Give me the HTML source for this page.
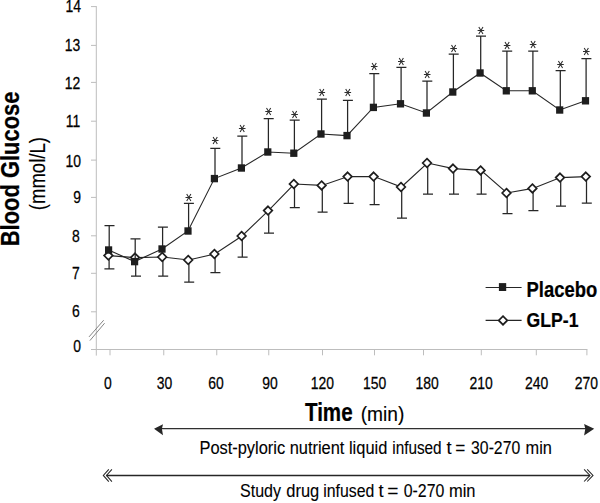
<!DOCTYPE html>
<html><head><meta charset="utf-8"><title>Blood glucose chart</title>
<style>html,body{margin:0;padding:0;background:#fff}svg{display:block}text{font-family:"Liberation Sans",sans-serif;fill:#000}</style></head><body>
<svg width="600" height="503" viewBox="0 0 600 503">
<rect width="600" height="503" fill="#fff"/>
<g stroke="#bdbdbd" stroke-width="1" fill="none">
<line x1="96.3" y1="6.1" x2="96.3" y2="355.6"/>
<line x1="91" y1="349.5" x2="587.4" y2="349.5"/>
<line x1="91" y1="6.60" x2="96.3" y2="6.60"/>
<line x1="91" y1="45.40" x2="96.3" y2="45.40"/>
<line x1="91" y1="82.40" x2="96.3" y2="82.40"/>
<line x1="91" y1="121.20" x2="96.3" y2="121.20"/>
<line x1="91" y1="160.10" x2="96.3" y2="160.10"/>
<line x1="91" y1="197.40" x2="96.3" y2="197.40"/>
<line x1="91" y1="235.80" x2="96.3" y2="235.80"/>
<line x1="91" y1="273.30" x2="96.3" y2="273.30"/>
<line x1="91" y1="311.80" x2="96.3" y2="311.80"/>
<line x1="110.00" y1="349.5" x2="110.00" y2="355.3"/>
<line x1="163.75" y1="349.5" x2="163.75" y2="355.3"/>
<line x1="216.75" y1="349.5" x2="216.75" y2="355.3"/>
<line x1="268.75" y1="349.5" x2="268.75" y2="355.3"/>
<line x1="322.50" y1="349.5" x2="322.50" y2="355.3"/>
<line x1="374.50" y1="349.5" x2="374.50" y2="355.3"/>
<line x1="423.50" y1="349.5" x2="423.50" y2="355.3"/>
<line x1="481.30" y1="349.5" x2="481.30" y2="355.3"/>
<line x1="536.30" y1="349.5" x2="536.30" y2="355.3"/>
<line x1="586.90" y1="349.5" x2="586.90" y2="355.3"/>
</g>
<g stroke="#777" stroke-width="0.9"><line x1="89" y1="336.9" x2="103.7" y2="320.2"/><line x1="89.9" y1="340.6" x2="104.6" y2="323.2"/></g>
<text x="0" y="0" font-size="16.3" text-anchor="end" stroke="#000" stroke-width="0.25" transform="translate(80.9 12.4) scale(0.855 1)">14</text>
<text x="0" y="0" font-size="16.3" text-anchor="end" stroke="#000" stroke-width="0.25" transform="translate(80.2 51.1) scale(0.855 1)">13</text>
<text x="0" y="0" font-size="16.3" text-anchor="end" stroke="#000" stroke-width="0.25" transform="translate(80.2 88.5) scale(0.855 1)">12</text>
<text x="0" y="0" font-size="16.3" text-anchor="end" stroke="#000" stroke-width="0.25" transform="translate(80.2 127.0) scale(0.855 1)">11</text>
<text x="0" y="0" font-size="16.3" text-anchor="end" stroke="#000" stroke-width="0.25" transform="translate(80.9 167.0) scale(0.855 1)">10</text>
<text x="0" y="0" font-size="16.3" text-anchor="end" stroke="#000" stroke-width="0.25" transform="translate(80.9 203.1) scale(0.855 1)">9</text>
<text x="0" y="0" font-size="16.3" text-anchor="end" stroke="#000" stroke-width="0.25" transform="translate(79.7 242.0) scale(0.855 1)">8</text>
<text x="0" y="0" font-size="16.3" text-anchor="end" stroke="#000" stroke-width="0.25" transform="translate(79.7 279.0) scale(0.855 1)">7</text>
<text x="0" y="0" font-size="16.3" text-anchor="end" stroke="#000" stroke-width="0.25" transform="translate(79.7 317.1) scale(0.855 1)">6</text>
<text x="0" y="0" font-size="16.3" text-anchor="end" stroke="#000" stroke-width="0.25" transform="translate(80.9 352.3) scale(0.855 1)">0</text>
<text x="0" y="0" font-size="16.3" text-anchor="middle" stroke="#000" stroke-width="0.25" transform="translate(107.8 389.2) scale(0.855 1)">0</text>
<text x="0" y="0" font-size="16.3" text-anchor="middle" stroke="#000" stroke-width="0.25" transform="translate(164.4 389.2) scale(0.855 1)">30</text>
<text x="0" y="0" font-size="16.3" text-anchor="middle" stroke="#000" stroke-width="0.25" transform="translate(216.1 389.2) scale(0.855 1)">60</text>
<text x="0" y="0" font-size="16.3" text-anchor="middle" stroke="#000" stroke-width="0.25" transform="translate(270.1 389.2) scale(0.855 1)">90</text>
<text x="0" y="0" font-size="16.3" text-anchor="middle" stroke="#000" stroke-width="0.25" transform="translate(322.3 389.2) scale(0.855 1)">120</text>
<text x="0" y="0" font-size="16.3" text-anchor="middle" stroke="#000" stroke-width="0.25" transform="translate(374.7 389.2) scale(0.855 1)">150</text>
<text x="0" y="0" font-size="16.3" text-anchor="middle" stroke="#000" stroke-width="0.25" transform="translate(427 389.2) scale(0.855 1)">180</text>
<text x="0" y="0" font-size="16.3" text-anchor="middle" stroke="#000" stroke-width="0.25" transform="translate(481 389.2) scale(0.855 1)">210</text>
<text x="0" y="0" font-size="16.3" text-anchor="middle" stroke="#000" stroke-width="0.25" transform="translate(536.5 389.2) scale(0.855 1)">240</text>
<text x="0" y="0" font-size="16.3" text-anchor="middle" stroke="#000" stroke-width="0.25" transform="translate(586.3 389.2) scale(0.855 1)">270</text>
<polyline points="108.8,255.6 135.4,257.6 162.6,257.0 188.6,260.0 214.8,254.0 242.0,236.0 268.4,210.6 294.2,184.0 322.0,185.4 348.0,176.6 374.0,176.6 401.4,187.0 427.4,163.0 453.4,168.6 481.0,170.4 506.9,193.0 532.8,188.4 560.4,177.6 586.2,176.6" fill="none" stroke="#262626" stroke-width="1.1"/>
<g stroke="#262626" stroke-width="1.25" fill="none">
<path d="M109.1 255.6V268.8M104.4 268.8H114.4"/>
<path d="M135.7 257.6V276.2M131.0 276.2H141.0"/>
<path d="M162.9 257.0V276.2M158.2 276.2H168.2"/>
<path d="M188.9 260.0V282.0M184.2 282.0H194.2"/>
<path d="M215.1 254.0V272.6M210.4 272.6H220.4"/>
<path d="M242.3 236.0V257.0M237.6 257.0H247.6"/>
<path d="M268.7 210.6V233.0M264.0 233.0H274.0"/>
<path d="M294.5 184.0V207.6M289.8 207.6H299.8"/>
<path d="M322.3 185.4V212.0M317.6 212.0H327.6"/>
<path d="M348.3 176.6V203.4M343.6 203.4H353.6"/>
<path d="M374.3 176.6V204.6M369.6 204.6H379.6"/>
<path d="M401.7 187.0V218.0M397.0 218.0H407.0"/>
<path d="M427.7 163.0V194.2M423.0 194.2H433.0"/>
<path d="M453.7 168.6V194.2M449.0 194.2H459.0"/>
<path d="M481.3 170.4V194.2M476.6 194.2H486.6"/>
<path d="M507.2 193.0V213.6M502.5 213.6H512.5"/>
<path d="M533.1 188.4V210.6M528.4 210.6H538.4"/>
<path d="M560.7 177.6V206.0M556.0 206.0H566.0"/>
<path d="M586.5 176.6V203.2M581.8 203.2H591.8"/>
</g>
<path d="M108.4 251.3L112.7 255.6L108.4 259.9L104.1 255.6Z" fill="#fff" stroke="#1e1e1e" stroke-width="1.7" stroke-linejoin="miter"/>
<path d="M135.0 253.3L139.3 257.6L135.0 261.9L130.7 257.6Z" fill="#fff" stroke="#1e1e1e" stroke-width="1.7" stroke-linejoin="miter"/>
<path d="M162.2 252.7L166.5 257.0L162.2 261.3L157.9 257.0Z" fill="#fff" stroke="#1e1e1e" stroke-width="1.7" stroke-linejoin="miter"/>
<path d="M188.2 255.7L192.5 260.0L188.2 264.3L183.9 260.0Z" fill="#fff" stroke="#1e1e1e" stroke-width="1.7" stroke-linejoin="miter"/>
<path d="M214.4 249.7L218.7 254.0L214.4 258.3L210.1 254.0Z" fill="#fff" stroke="#1e1e1e" stroke-width="1.7" stroke-linejoin="miter"/>
<path d="M241.6 231.7L245.9 236.0L241.6 240.3L237.3 236.0Z" fill="#fff" stroke="#1e1e1e" stroke-width="1.7" stroke-linejoin="miter"/>
<path d="M268.0 206.3L272.3 210.6L268.0 214.9L263.7 210.6Z" fill="#fff" stroke="#1e1e1e" stroke-width="1.7" stroke-linejoin="miter"/>
<path d="M293.8 179.7L298.1 184.0L293.8 188.3L289.5 184.0Z" fill="#fff" stroke="#1e1e1e" stroke-width="1.7" stroke-linejoin="miter"/>
<path d="M321.6 181.1L325.9 185.4L321.6 189.7L317.3 185.4Z" fill="#fff" stroke="#1e1e1e" stroke-width="1.7" stroke-linejoin="miter"/>
<path d="M347.6 172.3L351.9 176.6L347.6 180.9L343.3 176.6Z" fill="#fff" stroke="#1e1e1e" stroke-width="1.7" stroke-linejoin="miter"/>
<path d="M373.6 172.3L377.9 176.6L373.6 180.9L369.3 176.6Z" fill="#fff" stroke="#1e1e1e" stroke-width="1.7" stroke-linejoin="miter"/>
<path d="M401.0 182.7L405.3 187.0L401.0 191.3L396.7 187.0Z" fill="#fff" stroke="#1e1e1e" stroke-width="1.7" stroke-linejoin="miter"/>
<path d="M427.0 158.7L431.3 163.0L427.0 167.3L422.7 163.0Z" fill="#fff" stroke="#1e1e1e" stroke-width="1.7" stroke-linejoin="miter"/>
<path d="M453.0 164.3L457.3 168.6L453.0 172.9L448.7 168.6Z" fill="#fff" stroke="#1e1e1e" stroke-width="1.7" stroke-linejoin="miter"/>
<path d="M480.6 166.1L484.9 170.4L480.6 174.7L476.3 170.4Z" fill="#fff" stroke="#1e1e1e" stroke-width="1.7" stroke-linejoin="miter"/>
<path d="M506.5 188.7L510.8 193.0L506.5 197.3L502.2 193.0Z" fill="#fff" stroke="#1e1e1e" stroke-width="1.7" stroke-linejoin="miter"/>
<path d="M532.4 184.1L536.7 188.4L532.4 192.7L528.1 188.4Z" fill="#fff" stroke="#1e1e1e" stroke-width="1.7" stroke-linejoin="miter"/>
<path d="M560.0 173.3L564.3 177.6L560.0 181.9L555.7 177.6Z" fill="#fff" stroke="#1e1e1e" stroke-width="1.7" stroke-linejoin="miter"/>
<path d="M585.8 172.3L590.1 176.6L585.8 180.9L581.5 176.6Z" fill="#fff" stroke="#1e1e1e" stroke-width="1.7" stroke-linejoin="miter"/>
<polyline points="108.6,250.0 134.6,261.6 162.0,249.0 188.0,231.0 214.4,178.6 241.4,168.0 267.8,152.0 293.8,153.2 321.0,134.0 347.0,135.6 373.4,107.4 400.5,103.8 426.4,113.0 452.8,92.0 480.1,73.0 506.3,90.8 532.3,90.8 559.7,110.0 585.5,100.8" fill="none" stroke="#262626" stroke-width="1.1"/>
<g stroke="#262626" stroke-width="1.25" fill="none">
<path d="M109.2 250.0V225.6M104.5 225.6H114.5"/>
<path d="M135.2 261.6V238.8M130.5 238.8H140.5"/>
<path d="M162.6 249.0V227.0M157.9 227.0H167.9"/>
<path d="M188.6 231.0V203.4M183.9 203.4H193.9"/>
<path d="M215.0 178.6V148.4M210.3 148.4H220.3"/>
<path d="M242.0 168.0V136.2M237.3 136.2H247.3"/>
<path d="M268.4 152.0V118.6M263.7 118.6H273.7"/>
<path d="M294.4 153.2V120.0M289.7 120.0H299.7"/>
<path d="M321.6 134.0V99.0M316.9 99.0H326.9"/>
<path d="M347.6 135.6V100.4M342.9 100.4H352.9"/>
<path d="M374.0 107.4V73.6M369.3 73.6H379.3"/>
<path d="M401.1 103.8V67.4M396.4 67.4H406.4"/>
<path d="M427.0 113.0V81.0M422.3 81.0H432.3"/>
<path d="M453.4 92.0V54.2M448.7 54.2H458.7"/>
<path d="M480.7 73.0V36.2M476.0 36.2H486.0"/>
<path d="M506.9 90.8V51.2M502.2 51.2H512.2"/>
<path d="M532.9 90.8V51.2M528.2 51.2H538.2"/>
<path d="M560.3 110.0V70.7M555.6 70.7H565.6"/>
<path d="M586.1 100.8V58.7M581.4 58.7H591.4"/>
</g>
<rect x="105.0" y="246.3" width="7.2" height="7.4" fill="#1e1e1e"/>
<rect x="131.0" y="257.9" width="7.2" height="7.4" fill="#1e1e1e"/>
<rect x="158.4" y="245.3" width="7.2" height="7.4" fill="#1e1e1e"/>
<rect x="184.4" y="227.3" width="7.2" height="7.4" fill="#1e1e1e"/>
<rect x="210.8" y="174.9" width="7.2" height="7.4" fill="#1e1e1e"/>
<rect x="237.8" y="164.3" width="7.2" height="7.4" fill="#1e1e1e"/>
<rect x="264.2" y="148.3" width="7.2" height="7.4" fill="#1e1e1e"/>
<rect x="290.2" y="149.5" width="7.2" height="7.4" fill="#1e1e1e"/>
<rect x="317.4" y="130.3" width="7.2" height="7.4" fill="#1e1e1e"/>
<rect x="343.4" y="131.9" width="7.2" height="7.4" fill="#1e1e1e"/>
<rect x="369.8" y="103.7" width="7.2" height="7.4" fill="#1e1e1e"/>
<rect x="396.9" y="100.1" width="7.2" height="7.4" fill="#1e1e1e"/>
<rect x="422.8" y="109.3" width="7.2" height="7.4" fill="#1e1e1e"/>
<rect x="449.2" y="88.3" width="7.2" height="7.4" fill="#1e1e1e"/>
<rect x="476.5" y="69.3" width="7.2" height="7.4" fill="#1e1e1e"/>
<rect x="502.7" y="87.1" width="7.2" height="7.4" fill="#1e1e1e"/>
<rect x="528.7" y="87.1" width="7.2" height="7.4" fill="#1e1e1e"/>
<rect x="556.1" y="106.3" width="7.2" height="7.4" fill="#1e1e1e"/>
<rect x="581.9" y="97.1" width="7.2" height="7.4" fill="#1e1e1e"/>
<g stroke="#2e2e2e" stroke-width="1.05" fill="none">
<path d="M185.5 197.5H192.1M186.7 194.0L190.9 201.0M186.7 201.0L190.9 194.0"/>
<path d="M211.9 140.5H218.5M213.1 137.0L217.3 144.0M213.1 144.0L217.3 137.0"/>
<path d="M238.9 128.5H245.5M240.1 125.0L244.3 132.0M240.1 132.0L244.3 125.0"/>
<path d="M265.3 111.5H271.9M266.5 108.0L270.7 115.0M266.5 115.0L270.7 108.0"/>
<path d="M291.3 114.5H297.9M292.5 111.0L296.7 118.0M292.5 118.0L296.7 111.0"/>
<path d="M318.5 92.5H325.1M319.7 89.0L323.9 96.0M319.7 96.0L323.9 89.0"/>
<path d="M344.5 92.5H351.1M345.7 89.0L349.9 96.0M345.7 96.0L349.9 89.0"/>
<path d="M370.9 66.5H377.5M372.1 63.0L376.3 70.0M372.1 70.0L376.3 63.0"/>
<path d="M398.0 61.5H404.6M399.2 58.0L403.4 65.0M399.2 65.0L403.4 58.0"/>
<path d="M423.9 74.5H430.5M425.1 71.0L429.3 78.0M425.1 78.0L429.3 71.0"/>
<path d="M450.3 48.5H456.9M451.5 45.0L455.7 52.0M451.5 52.0L455.7 45.0"/>
<path d="M477.6 30.5H484.2M478.8 27.0L483.0 34.0M478.8 34.0L483.0 27.0"/>
<path d="M503.8 45.5H510.4M505.0 42.0L509.2 49.0M505.0 49.0L509.2 42.0"/>
<path d="M529.8 44.5H536.4M531.0 41.0L535.2 48.0M531.0 48.0L535.2 41.0"/>
<path d="M557.2 64.5H563.8M558.4 61.0L562.6 68.0M558.4 68.0L562.6 61.0"/>
<path d="M583.0 51.5H589.6M584.2 48.0L588.4 55.0M584.2 55.0L588.4 48.0"/>
</g>
<line x1="485.6" y1="287.5" x2="521.6" y2="287.5" stroke="#262626" stroke-width="1.1"/>
<rect x="498.9" y="283.1" width="7.3" height="7.9" fill="#1e1e1e"/>
<line x1="485.6" y1="320.4" x2="521.6" y2="320.4" stroke="#262626" stroke-width="1.1"/>
<path d="M503 316.1L507.3 320.4L503 324.7L498.7 320.4Z" fill="#fff" stroke="#1e1e1e" stroke-width="1.7"/>
<text transform="translate(526.57 296.80) scale(0.8649 1)" font-size="21.3" font-weight="bold" stroke="#000" stroke-width="0.25">Placebo</text>
<text transform="translate(526.58 326.70) scale(0.8395 1)" font-size="21.0" font-weight="bold" stroke="#000" stroke-width="0.25">GLP-1</text>
<text transform="translate(19.10 246.27) rotate(-90) scale(0.8707 1)" font-size="25.2" font-weight="bold" stroke="#000" stroke-width="0.25">Blood Glucose</text>
<text transform="translate(44.90 210.15) rotate(-90) scale(0.8661 1)" font-size="21.4" stroke="#000" stroke-width="0.15">(mmol/L)</text>
<text transform="translate(304.97 420.80) scale(0.8160 1)" font-size="25.2" font-weight="bold" stroke="#000" stroke-width="0.25">Time</text>
<text transform="translate(360.71 420.90) scale(0.9222 1)" font-size="20.8" stroke="#000" stroke-width="0.15">(min)</text>
<line x1="160" y1="428.7" x2="587" y2="428.7" stroke="#303030" stroke-width="1.2"/>
<path d="M154.0 428.7L163 424.3L161.9 428.7L163 435.2Z" fill="#262626"/>
<path d="M594.2 428.8L584.1 423.9L585.3 428.8L584.1 435.4Z" fill="#262626"/>
<line x1="106.3" y1="475.5" x2="590" y2="475.5" stroke="#262626" stroke-width="1.4"/>
<g fill="none" stroke="#262626" stroke-width="1.05"><path d="M108.8 469.3L103.3 475.45L108.8 481.6"/><path d="M111.9 469.3L106.5 475.45L111.9 481.6"/>
<path d="M587.2 469.4L593.0 475.45L587.2 481.5"/><path d="M584.1 469.4L590.0 475.45L584.1 481.5"/></g>
<text transform="translate(199.45 453.90) scale(0.8687 1)" font-size="18.9" stroke="#000" stroke-width="0.12">Post-pyloric nutrient liquid</text>
<text transform="translate(392.27 453.90) scale(0.8108 1)" font-size="18.9" stroke="#000" stroke-width="0.12">infused</text>
<text transform="translate(446.62 453.90) scale(0.9714 1)" font-size="18.9" stroke="#000" stroke-width="0.12">t</text>
<text transform="translate(455.15 453.90) scale(0.9145 1)" font-size="18.9" stroke="#000" stroke-width="0.12">=</text>
<text transform="translate(471.10 453.90) scale(0.8345 1)" font-size="18.9" stroke="#000" stroke-width="0.12">30-270</text>
<text transform="translate(525.52 453.90) scale(0.8652 1)" font-size="18.9" stroke="#000" stroke-width="0.12">min</text>
<text transform="translate(240.06 496.50) scale(0.8433 1)" font-size="19.0" stroke="#000" stroke-width="0.12">Study</text>
<text transform="translate(286.31 496.50) scale(0.8665 1)" font-size="19.0" stroke="#000" stroke-width="0.12">drug</text>
<text transform="translate(323.24 496.50) scale(0.8338 1)" font-size="19.0" stroke="#000" stroke-width="0.12">infused</text>
<text transform="translate(378.62 496.50) scale(0.9663 1)" font-size="19.0" stroke="#000" stroke-width="0.12">t</text>
<text transform="translate(387.36 496.50) scale(1.0071 1)" font-size="19.0" stroke="#000" stroke-width="0.12">=</text>
<text transform="translate(403.68 496.50) scale(0.8365 1)" font-size="19.0" stroke="#000" stroke-width="0.12">0-270</text>
<text transform="translate(448.91 496.50) scale(0.8677 1)" font-size="19.0" stroke="#000" stroke-width="0.12">min</text>
</svg></body></html>
